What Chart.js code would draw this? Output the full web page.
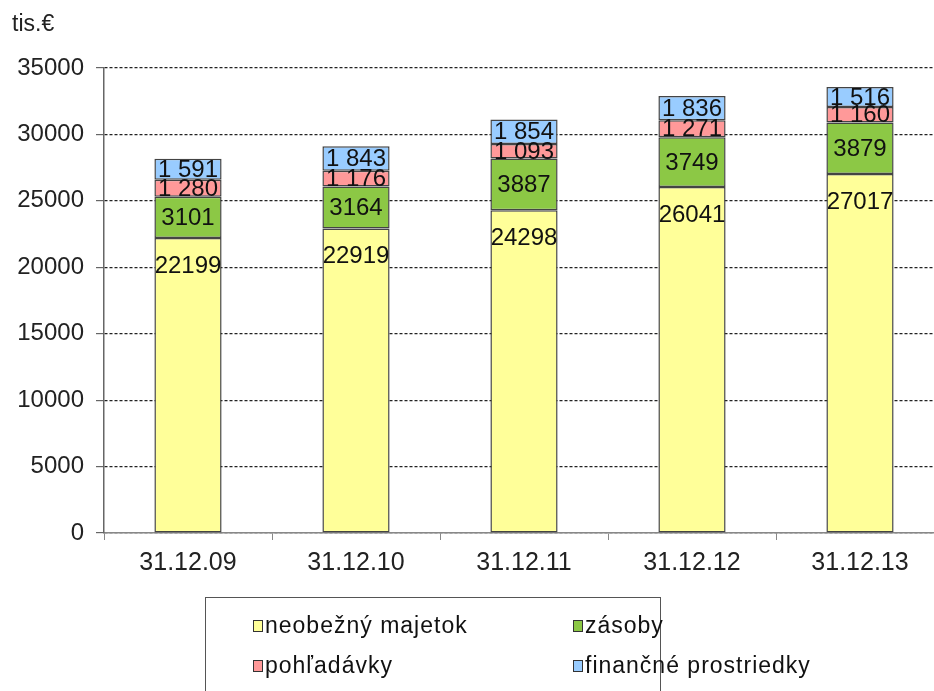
<!DOCTYPE html>
<html>
<head>
<meta charset="utf-8">
<script src="https://cdn.jsdelivr.net/npm/chart.js@4/dist/chart.umd.min.js"></script>
<style>
  html, body { margin: 0; padding: 0; background: #fff; overflow: hidden; width: 934px; height: 691px; }
  #wrap { position: absolute; left: 0; top: 0; width: 944px; height: 691px; }
  #unit { position: absolute; left: 12px; top: 10px; font: 23px "Liberation Sans", Arial, sans-serif; color: #222; }
  #legend { position: absolute; left: 205px; top: 597px; width: 456px; height: 110px; border: 1.5px solid #555; box-sizing: border-box; font: 23px "Liberation Sans", Arial, sans-serif; letter-spacing: 1px; color: #111; }
  .item { position: absolute; display: flex; align-items: center; white-space: nowrap; }
  .sw { width: 10px; height: 12px; border: 1.5px solid #333; margin-right: 2px; box-sizing: border-box; }
</style>
</head>
<body>
<div id="wrap"><canvas id="chart" width="944" height="691"></canvas></div>
<div id="unit">tis.€</div>
<div id="legend"></div>
<script>
// categories and series
const dates = ['31.12.09', '31.12.10', '31.12.11', '31.12.12', '31.12.13'];
const neobezny = [22199, 22919, 24298, 26041, 27017];
const zasoby = [3101, 3164, 3887, 3749, 3879];
const pohladavky = [1280, 1176, 1093, 1271, 1160];
const financne = [1591, 1843, 1854, 1836, 1516];
const seriesNames = ['neobežný majetok', 'zásoby', 'pohľadávky', 'finančné prostriedky'];
const yMax = 35000;
const yStep = 5000;

const colors = ['#ffff99', '#8cc845', '#ff9999', '#99ccff'];

// value labels inside bars
const valueLabels = {
  id: 'valueLabels',
  afterDatasetsDraw(chart) {
    const ctx = chart.ctx;
    ctx.save();
    ctx.font = '24px "Liberation Sans", Arial, sans-serif';
    ctx.fillStyle = '#111';
    ctx.textAlign = 'center';
    ctx.textBaseline = 'middle';
    chart.data.datasets.forEach((ds, i) => {
      chart.getDatasetMeta(i).data.forEach((bar, j) => {
        const v = ds.data[j];
        let txt = String(v);
        if (i >= 2) txt = txt.replace(/\B(?=(\d{3})+(?!\d))/g, ' ');
        let y = (bar.y + bar.base) / 2;
        if (i === 0) y = bar.y + 27;
        ctx.fillText(txt, bar.x, y + 1);
      });
    });
    ctx.restore();
  }
};

new Chart(document.getElementById('chart'), {
  type: 'bar',
  data: {
    labels: dates,
    datasets: [neobezny, zasoby, pohladavky, financne].map((d, i) => ({
      label: seriesNames[i],
      data: d,
      backgroundColor: colors[i],
      borderColor: '#444',
      borderWidth: 1.5,
      borderSkipped: false,
      barPercentage: 0.4,
      categoryPercentage: 1
    }))
  },
  options: {
    responsive: false,
    animation: false,
    layout: { padding: { top: 68, left: 0, right: 0, bottom: 0 } },
    plugins: { legend: { display: false }, tooltip: { enabled: false } },
    scales: {
      x: {
        stacked: true,
        afterFit: s => { s.height = 158; },
        grid: { offset: true, drawOnChartArea: false, color: '#888', tickLength: 7 },
        border: { color: '#888', width: 1.5 },
        ticks: { color: '#222', padding: 8, font: { size: 25, family: '"Liberation Sans", Arial, sans-serif' } }
      },
      y: {
        stacked: true,
        min: 0,
        max: yMax,
        afterFit: s => { s.width = 104; },
        grid: { color: '#222', lineWidth: 1.2, tickBorderDash: [], tickColor: '#666', tickLength: 8 },
        border: { color: '#666', width: 1.5, dash: [3, 2] },
        ticks: {
          stepSize: yStep,
          color: '#222',
          padding: 12,
          font: { size: 24, family: '"Liberation Sans", Arial, sans-serif' },
          callback: v => String(v)
        }
      }
    }
  },
  plugins: [valueLabels]
});

// legend box
const legend = document.getElementById('legend');
const legendPos = [[47, 14], [367, 14], [47, 54], [367, 54]];
seriesNames.forEach((name, i) => {
  const it = document.createElement('div');
  it.className = 'item';
  it.style.left = legendPos[i][0] + 'px';
  it.style.top = legendPos[i][1] + 'px';
  const sw = document.createElement('span');
  sw.className = 'sw';
  sw.style.background = colors[i];
  const tx = document.createElement('span');
  tx.textContent = name;
  it.appendChild(sw);
  it.appendChild(tx);
  legend.appendChild(it);
});
</script>
</body>
</html>
